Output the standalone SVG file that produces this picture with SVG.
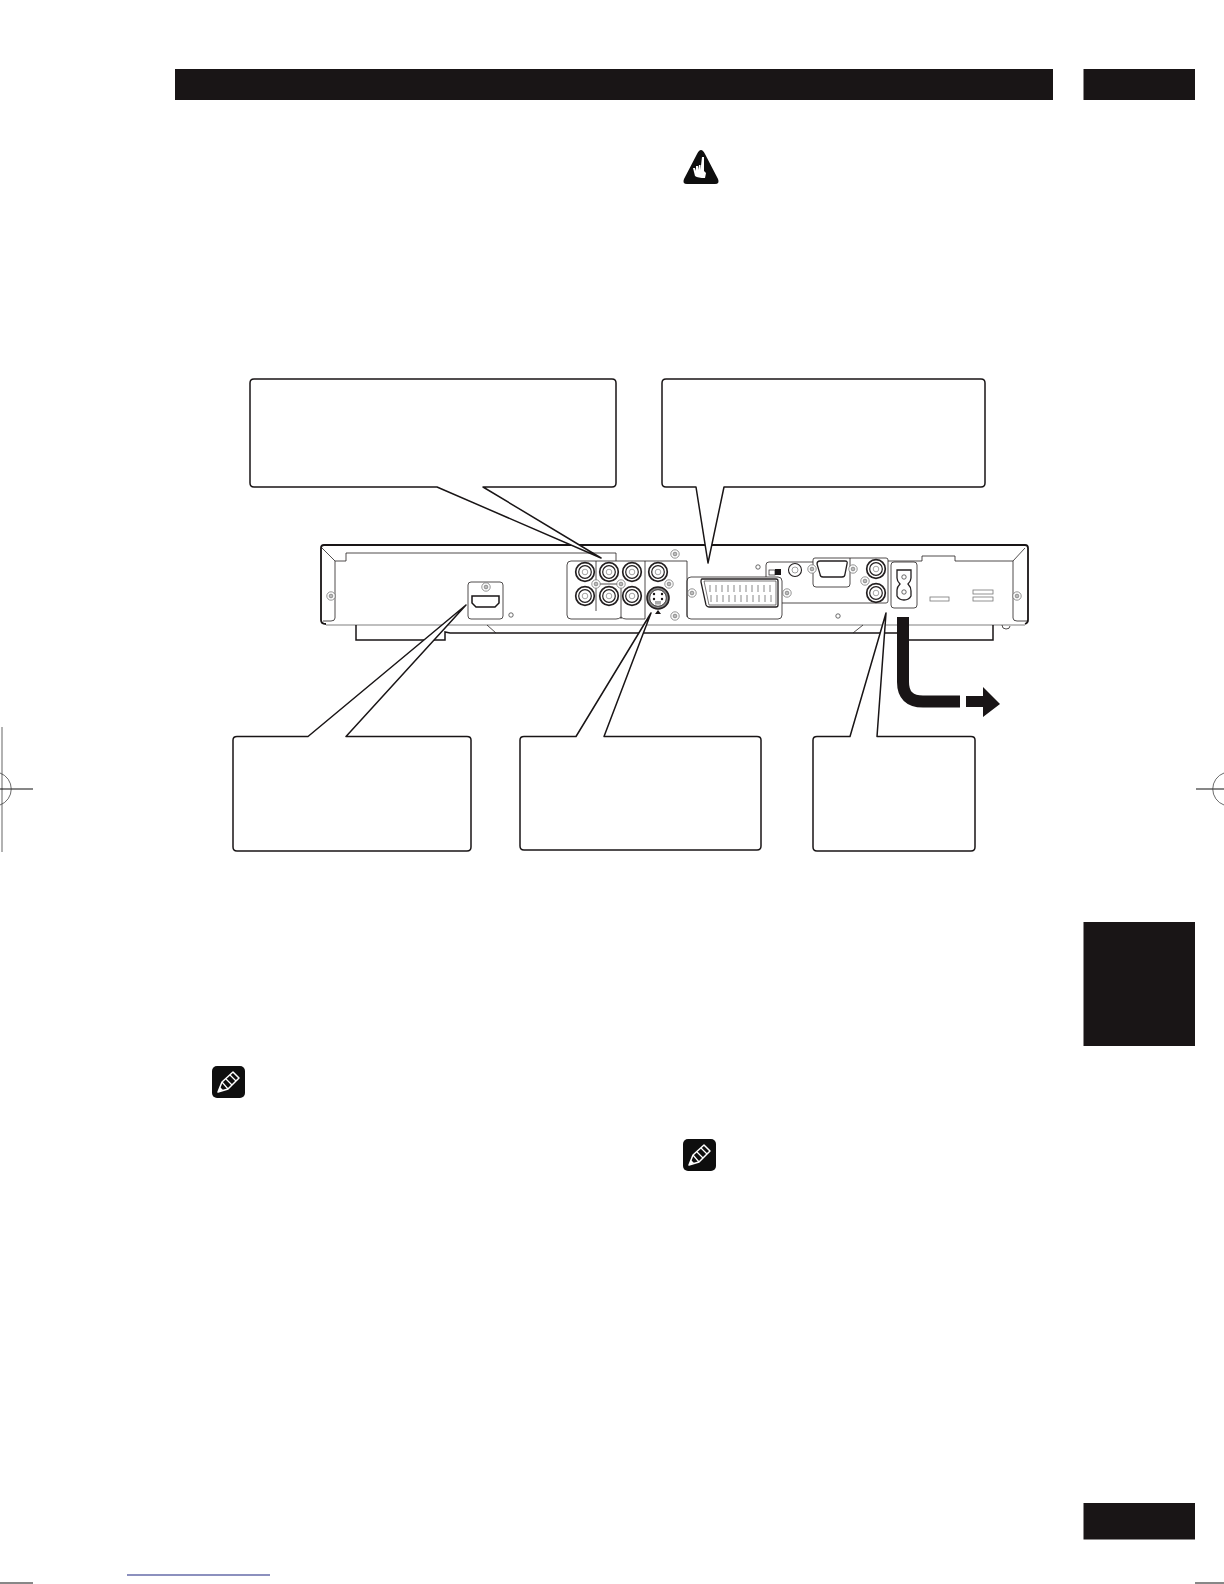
<svg xmlns="http://www.w3.org/2000/svg" xmlns:xlink="http://www.w3.org/1999/xlink" width="1224" height="1584" viewBox="0 0 1224 1584">
<style>
.bar{fill:#191516}
.box{fill:#fff;stroke:#191516;stroke-width:1.5;stroke-linejoin:round}
.ln{fill:none;stroke:#231f20;stroke-width:.8}
.md{fill:none;stroke:#191516;stroke-width:1.5}
.hv{fill:none;stroke:#191516;stroke-width:1.8}
.gy{fill:none;stroke:#aaa;stroke-width:1.6}
.cord{fill:none;stroke:#191516;stroke-width:12}
.wh{fill:#fff}
.k{fill:#191516}
</style>
<defs>
<g id="screw"><circle r="4.2" fill="#fff" stroke="#666" stroke-width=".7"/><circle r="1.9" fill="#bbb" stroke="#555" stroke-width=".5"/></g>
<g id="rca"><circle r="9.3" fill="#fff" stroke="#231f20" stroke-width="1.7"/><circle r="6.3" fill="#fff" stroke="#231f20" stroke-width="1.2"/><circle r="2.8" fill="#fff" stroke="#666" stroke-width=".6"/></g>
<g id="hole"><circle r="2.2" fill="#fff" stroke="#444" stroke-width=".8"/></g>
<g id="note"><rect width="33" height="32" rx="5" fill="#0e0e0e"/><path d="M6,26 L10,16 L21,6 L27,12 L16,23 Z" fill="none" stroke="#fff" stroke-width="1.5" stroke-linejoin="round"/><path d="M10,16 L16,23 M14,13 L20,19 M18,9 L24,15" stroke="#fff" stroke-width="1.2"/><path d="M6,26 L11,24 L8,21 Z" fill="#fff"/></g>
</defs>

<g id="header-bars">
<rect class="bar" x="175" y="69" width="878" height="31"/>
<rect class="bar" x="1083.500" y="69" width="111.500" height="31"/>
<rect class="bar" x="1083.500" y="922" width="111.500" height="124"/>
<rect class="bar" x="1083.500" y="1503" width="111.500" height="36.500"/>
</g>

<g id="crop-marks">
<path d="M2,727 V852" stroke="#aaa" stroke-width="1.8" fill="none"/>
<path d="M0,789 H33 M1196,789 H1224" stroke="#111" stroke-width="1.1" fill="none"/>
<path d="M0,773 A17,17 0 0 1 0,805" stroke="#444" stroke-width=".8" fill="none"/>
<path d="M1224,773 A17,17 0 0 0 1224,805" stroke="#444" stroke-width=".8" fill="none"/>
<path d="M127,1575 H270" stroke="#1a237e" stroke-width="1.2" fill="none"/>
<path d="M0,1583 H33 M1195,1583 H1224" stroke="#111" stroke-width="1" fill="none"/>
</g>

<g id="important-icon">
<path d="M701,150 Q703,150 705,154 L718,179 Q720,184 715,184 H687 Q682,184 684,179 L697,154 Q699,150 701,150 Z" fill="#0e0e0e"/>
<path d="M702,157 L704,157 L704,171 L706,173 L705,178 Q698,178 695,176 L693,168 L695,168 L696,171 L696,166 L698,166 L698,170 L699,165 L700.500,165 L700.500,170 Z" class="wh"/>
</g>
<use id="note-icon-1" href="#note" x="212" y="1066"/>
<use id="note-icon-2" href="#note" x="683" y="1139"/>

<g id="device">
<path class="hv" d="M321,620 V548 Q321,545 324,545 H1025 Q1028,545 1028,548 V620 Q1028,623 1025,624"/>
<path class="hv" d="M321,620 Q321,624 326,624"/>
<path class="gy" d="M326,625 H1025"/>
<path class="md" d="M356,625 V640 H445 V632 L450,633 H897 M909,640 H993 V625"/>
<path class="ln" d="M487,625 L496,633 M853,633 L863,625"/>
<path class="ln" d="M1002,625 Q1002,629 1006,629 Q1010,629 1010,626"/>
<path class="ln" d="M322,548 L335,561 V618 Q335,621 331,621 H323 M335,561 H346 V553 H616 V561"/>
<path class="ln" d="M1013,561 L1025,548 M1013,561 V618 Q1013,621 1017,621 H1027 M955,561 H1013 M955,561 V556 H922 V561 H888"/>
<path class="ln" d="M571,561 H687 V617 M571,561 Q567,561 567,565 V615 Q567,619 571,619 H616 Q619,619 621,617 Q623,619 626,619 H645 M596,561 V611 M621,584 V619 M645,561 V619 M596,584 H621"/>
<rect class="ln" x="468" y="582" width="35" height="37" rx="3"/>
<path d="M472,596 H499 V603 L495,607 H476 L472,603 Z" fill="#fff" stroke="#191516" stroke-width="1.5"/>
<use href="#screw" x="486" y="587"/>
<use href="#hole" x="511" y="615"/>
<use href="#screw" x="331" y="596"/>
<use href="#rca" x="585" y="572"/><use href="#rca" x="585" y="596"/>
<use href="#rca" x="609" y="572"/><use href="#rca" x="609" y="596"/>
<use href="#rca" x="632" y="572"/><use href="#rca" x="632" y="596"/>
<use href="#rca" x="658" y="572"/>
<use href="#screw" x="596" y="584"/><use href="#screw" x="621" y="584"/>
<use href="#screw" x="669" y="584"/><use href="#screw" x="675" y="554"/><use href="#screw" x="675" y="616"/>
<g id="s-video">
<circle cx="658" cy="598" r="11" fill="#888" stroke="#231f20" stroke-width="1.6"/>
<circle cx="658" cy="598" r="8.3" fill="#fff" stroke="#231f20" stroke-width=".8"/>
<circle cx="654" cy="594" r="1.2" class="k"/><circle cx="662" cy="594" r="1.2" class="k"/>
<circle cx="654" cy="599" r="1.2" class="k"/><circle cx="662" cy="599" r="1.2" class="k"/>
<rect x="655" y="601" width="6" height="3.500" fill="#aaa"/>
<path d="M655,614 L658,610 L661,614 Z" class="k"/>
</g>
<rect class="ln" x="687" y="577" width="95" height="42" rx="4"/>
<g id="scart">
<path d="M702,579 H776 Q778,579 778,581 V605 Q778,607 776,607 H709 Q707,607 706,605 L701,582 Q701,579 702,579 Z" fill="#fff" stroke="#231f20" stroke-width="1.3"/>
<path d="M704,581 H776 V605 H709 Z" fill="none" stroke="#231f20" stroke-width=".6"/>
<path d="M710,585 V592 M716,585 V592 M722,585 V592 M728,585 V592 M734,585 V592 M740,585 V592 M746,585 V592 M752,585 V592 M758,585 V592 M764,585 V592 M770,585 V592 M711,595 V602 M717,595 V602 M723,595 V602 M729,595 V602 M735,595 V602 M741,595 V602 M747,595 V602 M753,595 V602 M759,595 V602 M765,595 V602 M771,595 V602" stroke="#888" stroke-width="1" fill="none"/>
</g>
<use href="#screw" x="692" y="593"/><use href="#screw" x="787" y="593"/>
<use href="#hole" x="758" y="567"/>
<g id="optical-flag"><rect x="769" y="570" width="6" height="5" fill="#fff" stroke="#231f20" stroke-width=".7"/><rect x="775" y="569" width="6" height="6" class="k"/></g>
<circle cx="795" cy="570" r="6.500" fill="#fff" stroke="#231f20" stroke-width="1.1"/><circle cx="795" cy="570" r="3" fill="#fff" stroke="#666" stroke-width=".6"/>
<path class="ln" d="M766,577 V565 Q766,562 769,562 H813 V560 Q813,558 815,558 H886 Q888,558 888,560 V601 Q888,603 886,603 H782"/>
<path class="ln" d="M813,562 V584 Q813,587 816,587 H847 Q850,587 850,584 V558"/>
<path d="M820,561 H845 Q848,561 847,564 L845,574 Q845,577 842,577 H823 Q820,577 820,574 L817,564 Q817,561 820,561 Z" fill="#fff" stroke="#231f20" stroke-width="1.3"/>
<use href="#screw" x="812" y="569"/><use href="#screw" x="853" y="569"/>
<use href="#rca" x="876" y="569"/><use href="#rca" x="876" y="593"/>
<use href="#screw" x="865" y="581"/>
<use href="#hole" x="838" y="616"/>
<rect class="ln" x="891" y="562" width="26" height="46" rx="3"/>
<path d="M897,570 H911 V578 Q911,581 908,584 Q911,587 911,591 V596 Q909,600 904,600 Q899,600 897,596 V590 Q897,587 900,584 Q897,581 897,578 Z" fill="#fff" stroke="#231f20" stroke-width="1.3"/>
<use href="#hole" x="904" y="577"/><use href="#hole" x="904" y="592"/>
<rect x="930" y="597" width="19" height="4" fill="none" stroke="#777" stroke-width=".8"/>
<rect x="973" y="590" width="20" height="4" fill="none" stroke="#777" stroke-width=".8"/>
<rect x="973" y="597" width="20" height="4" fill="none" stroke="#777" stroke-width=".8"/>
<use href="#screw" x="1017" y="596"/>
</g>

<g id="power-cord">
<path class="cord" d="M903,617 V682 Q903,701.500 923,701.500 H960"/>
<path d="M966,696 H983 V687 L1000,704 L983,717 V707 H966 Z" class="k"/>
</g>

<g id="connectors"></g>

<g id="callout-a"><path class="box" d="M254,379 H612 Q616,379 616,383 V483 Q616,487 612,487 H483 L601,558 L437,487 H254 Q250,487 250,483 V383 Q250,379 254,379 Z"/></g>
<g id="callout-b"><path class="box" d="M666,379 H981 Q985,379 985,383 V483 Q985,487 981,487 H724 L708,563 L696,487 H666 Q662,487 662,483 V383 Q662,379 666,379 Z"/></g>
<g id="callout-c"><path class="box" d="M237,736.500 H308 L466,605 L346,736.500 H467 Q471,736.500 471,740 V847 Q471,851 467,851 H237 Q233,851 233,847 V740 Q233,736.500 237,736.500 Z"/></g>
<g id="callout-d"><path class="box" d="M524,736.500 H576 L651,613 L604,736.500 H757 Q761,736.500 761,740 V846 Q761,850 757,850 H524 Q520,850 520,846 V740 Q520,736.500 524,736.500 Z"/></g>
<g id="callout-e"><path class="box" d="M817,736.500 H850 L886,613 L877,736.500 H971 Q975,736.500 975,740 V847 Q975,851 971,851 H817 Q813,851 813,847 V740 Q813,736.500 817,736.500 Z"/></g>
</svg>
